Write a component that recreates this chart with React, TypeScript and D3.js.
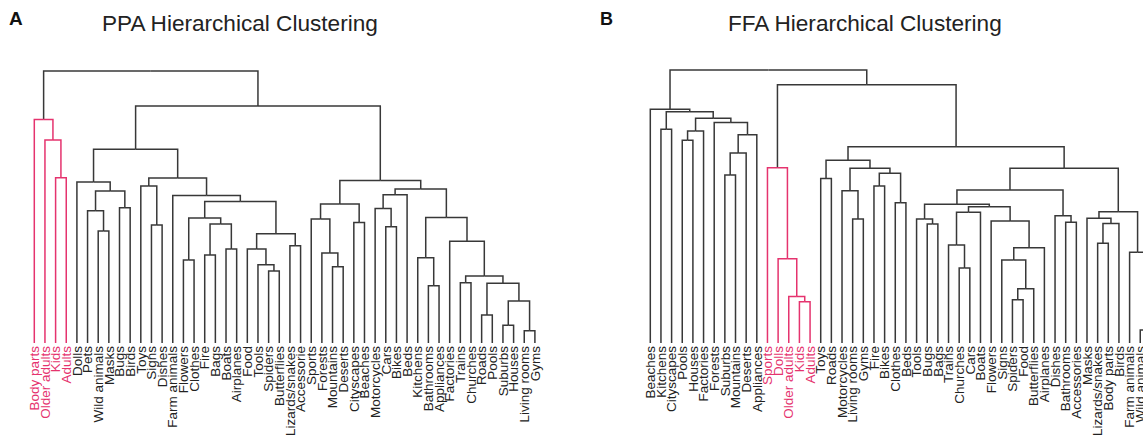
import React from 'react';
import * as d3 from 'd3';

type Tree = string | [number, Tree, Tree];

// leaf order along the x axis (tick labels)
const ppaLeaves = [
  'Body parts', 'Older adults', 'Kids', 'Adults', 'Dolls', 'Pets', 'Wild animals', 'Masks',
  'Bugs', 'Birds', 'Toys', 'Signs', 'Dishes', 'Farm animals', 'Flowers', 'Clothes', 'Fire',
  'Bags', 'Boats', 'Airplanes', 'Food', 'Tools', 'Spiders', 'Butterflies', 'Lizards/snakes',
  'Accessorie', 'Sports', 'Forests', 'Mountains', 'Deserts', 'Cityscapes', 'Beaches',
  'Motorcycles', 'Cars', 'Bikes', 'Beds', 'Kitchens', 'Bathrooms', 'Appliances', 'Factories',
  'Trains', 'Churches', 'Roads', 'Pools', 'Suburbs', 'Houses', 'Living rooms', 'Gyms',
];

const ffaLeaves = [
  'Beaches', 'Kitchens', 'Cityscapes', 'Pools', 'Houses', 'Factories', 'Forests', 'Suburbs',
  'Mountains', 'Deserts', 'Appliances', 'Sports', 'Dolls', 'Older adults', 'Kids', 'Adults',
  'Toys', 'Roads', 'Motorcycles', 'Living rooms', 'Gyms', 'Fire', 'Bikes', 'Clothes', 'Beds',
  'Tools', 'Bugs', 'Bags', 'Trains', 'Churches', 'Cars', 'Boats', 'Flowers', 'Signs', 'Spiders',
  'Food', 'Butterflies', 'Airplanes', 'Dishes', 'Bathrooms', 'Accessories', 'Masks',
  'Lizards/snakes', 'Body parts', 'Birds', 'Farm animals', 'Wild animals', 'Pets',
];

// highlighted (face) clusters
const ppaHighlight = ['Body parts', 'Older adults', 'Kids', 'Adults'];
const ffaHighlight = ['Sports', 'Dolls', 'Older adults', 'Kids', 'Adults'];

// merges as [height, left, right]
const ppaTree: Tree = [99.6,
  [81.9, 'Body parts', [74.4, 'Older adults', [60.5, 'Kids', 'Adults']]],
  [86.8,
    [71.0,
      [59.0, 'Dolls', [55.7, [48.4, 'Pets', [41.0, 'Wild animals', 'Masks']], [49.5, 'Bugs', 'Birds']]],
      [60.4,
        [57.5, 'Toys', [43.2, 'Signs', 'Dishes']],
        [54.0, 'Farm animals',
          [51.8,
            [45.8, [30.4, 'Flowers', 'Clothes'], [43.6, [32.2, 'Fire', 'Bags'], [34.4, 'Boats', 'Airplanes']]],
            [40.0, [34.4, 'Food', [28.7, 'Tools', [26.4, 'Spiders', 'Butterflies']]], [35.6, 'Lizards/snakes', 'Accessorie']]]]]],
    [59.5,
      [50.9, [45.4, 'Sports', [33.0, 'Forests', [27.9, 'Mountains', 'Deserts']]], [44.1, 'Cityscapes', 'Beaches']],
      [56.4,
        [54.3, [49.3, 'Motorcycles', [42.6, 'Cars', 'Bikes']], 'Beds'],
        [46.0,
          [31.2, 'Kitchens', [21.0, 'Bathrooms', 'Appliances']],
          [37.3, 'Factories',
            [24.5, [22.1, 'Trains', 'Churches'],
              [21.9, [10.3, 'Roads', 'Pools'], [15.4, [6.5, 'Suburbs', 'Houses'], [4.5, 'Living rooms', 'Gyms']]]]]]]]]];

const ffaTree: Tree = [100,
  [85.6, 'Beaches',
    [84.7, [78.3, 'Kitchens', 'Cityscapes'],
      [82.3, [77.7, [74.3, 'Pools', 'Houses'], 'Factories'],
        [80.8, 'Forests', [76.3, [69.6, [61.5, 'Suburbs', 'Mountains'], 'Deserts'], 'Appliances']]]]],
  [94.6,
    [64.2, 'Sports', [30.9, 'Dolls', [17.0, 'Older adults', [15.1, 'Kids', 'Adults']]]],
    [71.9,
      [66.9, [60.3, 'Toys', 'Roads'],
        [64.0, [55.8, 'Motorcycles', [45.4, 'Living rooms', 'Gyms']],
          [62.2, [57.5, 'Fire', 'Bikes'], [51.4, 'Clothes', 'Beds']]]],
      [64.0,
        [56.0,
          [50.8, [45.4, 'Tools', [43.6, 'Bugs', 'Bags']],
            [49.9, [47.9, [35.9, 'Trains', [27.5, 'Churches', 'Cars']], 'Boats'],
              [44.7, 'Flowers', [34.9, [30.4, 'Signs', [19.9, [15.8, 'Spiders', 'Food'], 'Butterflies']], 'Airplanes']]]],
          [46.6, 'Dishes', [44.2, 'Bathrooms', 'Accessories']]],
        [48.1, [45.7, 'Masks', [43.8, [36.5, 'Lizards/snakes', 'Body parts'], 'Birds']],
          [33.2, 'Farm animals', [4.8, 'Wild animals', 'Pets']]]]]]];

const PINK = '#e5336e';
const DARK = '#383838';
const FONT = "'Liberation Sans', Arial, Helvetica, sans-serif";

const y = d3.scaleLinear().domain([0, 100]).range([343, 70]);

function Dendrogram({ tree, leaves, highlight, x0, x1 }: {
  tree: Tree; leaves: string[]; highlight: string[]; x0: number; x1: number;
}) {
  const x = d3.scalePoint<string>().domain(leaves).range([x0, x1]);
  const hl = new Set(highlight);
  const root = d3.hierarchy<Tree>(tree, (d) => (Array.isArray(d) ? [d[1], d[2]] : null));
  const pos = new Map<any, { x: number; y: number }>();
  root.eachAfter((n) => {
    if (n.children) {
      const cx = d3.mean(n.children, (c) => pos.get(c)!.x)!;
      pos.set(n, { x: cx, y: y((n.data as any)[0]) });
    } else {
      pos.set(n, { x: x(n.data as string)!, y: y(0) });
    }
  });

  const links: JSX.Element[] = [];
  root.each((n) => {
    if (!n.children) return;
    const p = pos.get(n)!;
    const allHl = n.leaves().every((l) => hl.has(l.data as string));
    n.children.forEach((c, i) => {
      const q = pos.get(c)!;
      links.push(
        <path key={`${links.length}`} d={`M${p.x},${p.y}H${q.x}V${q.y}`}
          fill="none" stroke={allHl ? PINK : DARK} strokeWidth={1.5} />
      );
    });
  });

  return (
    <g>
      {links}
      {leaves.map((name) => (
        <text key={name} transform={`translate(${x(name)},${y(0) + 3}) rotate(-90)`}
          dy="0.35em" textAnchor="end" fontSize={13.5} fontFamily={FONT}
          fill={hl.has(name) ? PINK : '#222'}>{name}</text>
      ))}
    </g>
  );
}

export default function App() {
  return (
    <svg width={1143} height={436} style={{ position: 'absolute', left: 0, top: 0, background: '#fff' }}>
      <text x={9} y={25} fontSize={19} fontWeight="bold" fontFamily={FONT} fill="#111">A</text>
      <text x={102} y={31} fontSize={22.6} fontFamily={FONT} fill="#222">PPA Hierarchical Clustering</text>
      <text x={600} y={25} fontSize={18} fontWeight="bold" fontFamily={FONT} fill="#111">B</text>
      <text x={728} y={31} fontSize={22.6} fontFamily={FONT} fill="#222">FFA Hierarchical Clustering</text>
      <Dendrogram tree={ppaTree} leaves={ppaLeaves} highlight={ppaHighlight} x0={34.3} x1={534.9} />
      <Dendrogram tree={ffaTree} leaves={ffaLeaves} highlight={ffaHighlight} x0={650.3} x1={1150.9} />
    </svg>
  );
}
